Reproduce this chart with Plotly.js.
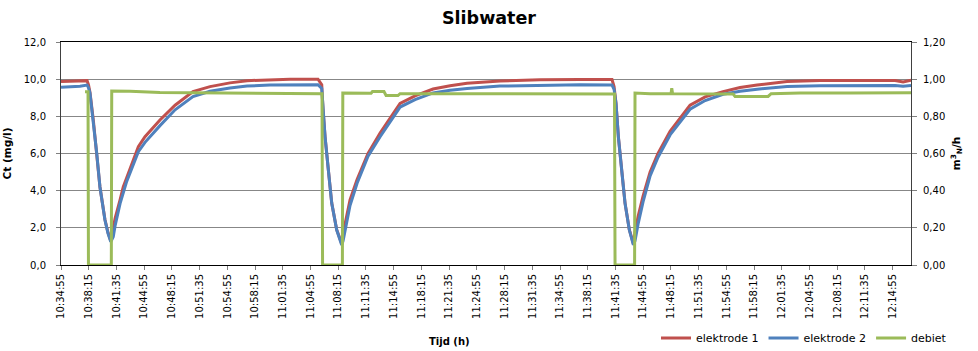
<!DOCTYPE html>
<html>
<head>
<meta charset="utf-8">
<script src="https://cdn.plot.ly/plotly-3.0.1.min.js"></script>
<style>html,body{margin:0;padding:0;background:#fff;}#chart{width:978px;height:351px;}</style>
</head>
<body>
<div id="chart"></div>
<script>
// Electrode time stamps (h:m:s)
const electrodeTimes = ["10:34:55","10:36:00","10:37:12","10:38:03","10:38:13","10:38:24","10:38:48","10:39:13","10:39:36","10:40:12","10:40:34","10:40:54","10:41:12","10:41:25","10:42:01","10:42:24","10:42:49","10:44:13","10:45:01","10:46:49","10:48:38","10:50:47","10:52:50","10:55:14","10:57:17","11:00:03","11:02:27","11:05:49","11:06:16","11:06:25","11:06:40","11:07:04","11:07:28","11:08:04","11:08:40","11:08:50","11:09:11","11:09:40","11:10:31","11:11:50","11:13:17","11:15:41","11:17:29","11:19:39","11:21:42","11:23:44","11:27:42","11:32:31","11:37:20","11:41:10","11:41:25","11:41:39","11:41:56","11:42:20","11:42:44","11:43:15","11:43:44","11:43:56","11:44:18","11:44:54","11:45:45","11:46:42","11:48:09","11:50:33","11:52:22","11:54:31","11:56:34","11:58:37","12:02:13","12:06:11","12:11:00","12:15:12","12:16:10","12:17:07"];
// elektrode 1 (mg/l)
const elektrode1 = [9.87,9.88,9.90,9.92,9.70,9.30,7.80,6.00,4.20,2.45,1.75,1.30,2.06,2.50,3.50,4.20,4.70,6.37,6.90,7.80,8.60,9.33,9.60,9.80,9.92,9.97,10.00,10.00,9.70,8.40,6.90,5.10,3.33,1.90,1.15,1.70,2.50,3.50,4.60,6.00,7.10,8.70,9.10,9.47,9.65,9.78,9.90,9.97,9.98,9.98,9.60,8.70,6.90,5.10,3.33,1.90,1.15,1.75,2.60,3.70,5.00,6.00,7.20,8.60,9.05,9.33,9.55,9.69,9.87,9.93,9.95,9.93,9.85,9.95];
// elektrode 2 (mg/l)
const elektrode2 = [9.56,9.58,9.62,9.68,9.55,9.25,7.80,6.00,4.20,2.42,1.70,1.25,1.52,2.10,3.30,3.95,4.50,6.10,6.60,7.50,8.35,9.06,9.35,9.52,9.63,9.68,9.70,9.70,9.50,8.40,6.90,5.10,3.33,1.88,1.08,1.30,2.10,3.20,4.40,5.85,6.90,8.50,8.90,9.26,9.40,9.50,9.63,9.68,9.70,9.68,9.45,8.70,6.90,5.10,3.33,1.88,1.08,1.30,2.20,3.40,4.80,5.80,7.00,8.38,8.85,9.19,9.35,9.46,9.60,9.65,9.67,9.66,9.62,9.66];
// debiet time stamps and values (m3N/h)
const debietTimes = ["10:37:48","10:38:10","10:38:13","10:40:58","10:41:01","10:43:13","10:46:49","10:51:38","10:57:39","11:03:39","11:06:18","11:06:22","11:08:45","11:08:48","11:12:12","11:12:22","11:13:45","11:14:00","11:15:26","11:15:41","11:21:42","11:27:42","11:34:55","11:41:28","11:41:32","11:43:53","11:43:56","11:45:45","11:48:16","11:48:21","11:48:27","11:51:46","11:55:44","11:55:58","11:59:56","12:00:18","12:03:47","12:09:48","12:17:07"];
const debiet = [0.932,0.932,0,0,0.936,0.935,0.928,0.927,0.924,0.921,0.921,0,0,0.925,0.924,0.933,0.933,0.912,0.912,0.922,0.922,0.920,0.920,0.920,0,0,0.925,0.922,0.922,0.951,0.922,0.922,0.920,0.907,0.907,0.922,0.925,0.926,0.927];

const axisStart = "10:34:55";
const axisEnd = "12:17:07";
const day = "2000-01-01 ";
const toDate = t => day + t;

const font = "DejaVu Sans";

const traces = [
  {x: electrodeTimes.map(toDate), y: elektrode1, name: "elektrode 1", type: "scatter", mode: "lines",
   line: {color: "#C0504D", width: 3}, yaxis: "y"},
  {x: electrodeTimes.map(toDate), y: elektrode2, name: "elektrode 2", type: "scatter", mode: "lines",
   line: {color: "#4F81BD", width: 3}, yaxis: "y"},
  {x: debietTimes.map(toDate), y: debiet, name: "debiet", type: "scatter", mode: "lines",
   line: {color: "#9BBB59", width: 3}, yaxis: "y2"}
];

const layout = {
  width: 978, height: 351,
  margin: {l: 61, r: 67, t: 42, b: 86, autoexpand: false},
  paper_bgcolor: "#fff", plot_bgcolor: "#fff",
  separators: ", ",
  font: {family: font, size: 10, color: "#000"},
  showlegend: true,
  title: {text: "<b>Slibwater</b>", x: 0.5, xref: "container", y: 0.949, yref: "container", yanchor: "middle",
          font: {family: font, size: 17.5, color: "#000"}},
  xaxis: {
    type: "date", range: [toDate(axisStart), toDate(axisEnd)],
    tick0: toDate(axisStart), dtick: 200000, tickformat: "%H:%M:%S",
    tickangle: -90, ticks: "outside", ticklen: 4, tickcolor: "#808080",
    showline: true, linecolor: "#000", linewidth: 1, mirror: true,
    showgrid: false, zeroline: false, tickfont: {family: font, size: 10}
  },
  yaxis: {
    range: [0, 12], dtick: 2, tickformat: ".1f",
    ticks: "outside", ticklen: 4, tickcolor: "#808080", ticklabelstandoff: 8,
    showline: true, linecolor: "#404040", linewidth: 1,
    showgrid: true, gridcolor: "#878787", gridwidth: 1, zeroline: false,
    title: {text: "<b>Ct (mg/l)</b>", font: {family: font, size: 10.5}, standoff: 10},
    tickfont: {family: font, size: 10}
  },
  yaxis2: {
    overlaying: "y", side: "right", range: [0, 1.2], dtick: 0.2, tickformat: ".2f",
    ticks: "outside", ticklen: 5, tickcolor: "#808080", ticklabelstandoff: 4,
    showline: true, linecolor: "#404040", linewidth: 1,
    showgrid: false, zeroline: false,
    title: {text: "<b>m<sup>3</sup><sub>N</sub>/h</b>", font: {family: font, size: 10.5}, standoff: 8},
    tickfont: {family: font, size: 10}
  },
  legend: {orientation: "h", x: 0.7, xanchor: "left", y: -0.327, yanchor: "middle",
           font: {family: font, size: 11}, itemwidth: 30, bgcolor: "rgba(0,0,0,0)"},
  annotations: [{text: "<b>Tijd (h)</b>", xref: "paper", yref: "paper", x: 0.4576, y: -0.341,
                 xanchor: "center", yanchor: "middle", showarrow: false, font: {family: font, size: 10}}]
};

Plotly.newPlot("chart", traces, layout, {staticPlot: true, displayModeBar: false});
</script>
</body>
</html>
